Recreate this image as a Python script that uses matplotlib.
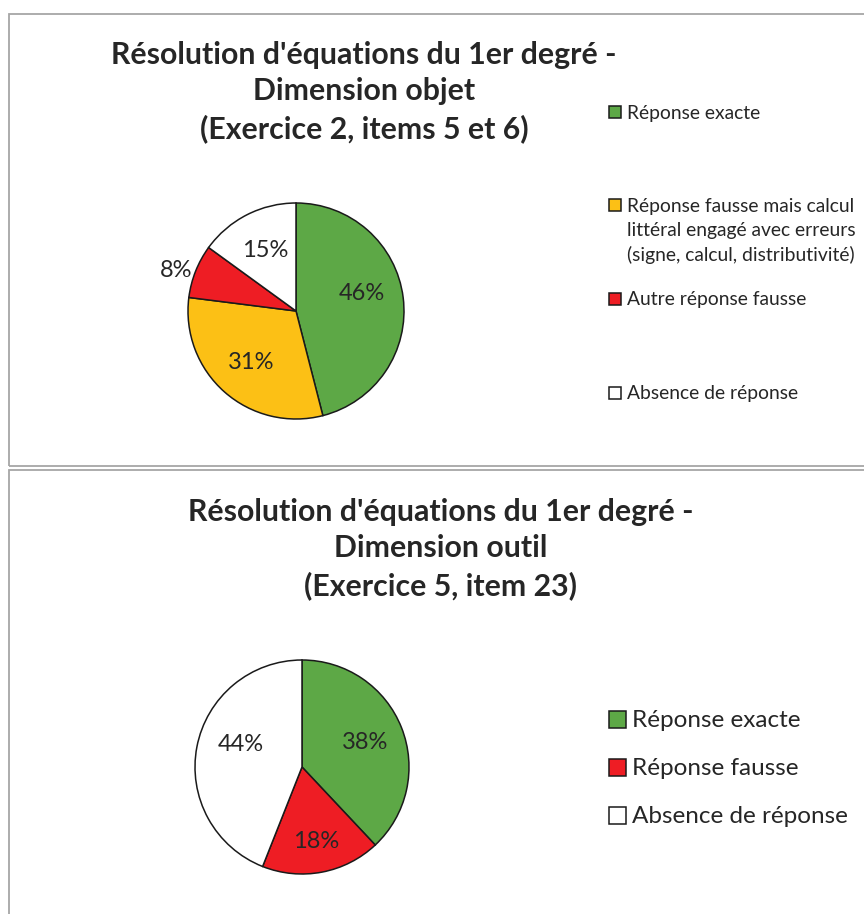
import matplotlib
matplotlib.use('Agg')
import matplotlib.pyplot as plt
from matplotlib.patches import Rectangle
import numpy as np

plt.rcParams['font.family'] = ['Lato', 'DejaVu Sans']

# Data
title_top = "Résolution d'équations du 1er degré -\nDimension objet\n(Exercice 2, items 5 et 6)"
labels_top = ["Réponse exacte",
              "Réponse fausse mais calcul\nlittéral engagé avec erreurs\n(signe, calcul, distributivité)",
              "Autre réponse fausse",
              "Absence de réponse"]
values_top = [46, 31, 8, 15]

title_bot = "Résolution d'équations du 1er degré -\nDimension outil\n(Exercice 5, item 23)"
labels_bot = ["Réponse exacte", "Réponse fausse", "Absence de réponse"]
values_bot = [38, 18, 44]

GREEN, YELLOW, RED, WHITE = '#5da846', '#fcc015', '#ee1d24', '#ffffff'
colors_top = [GREEN, YELLOW, RED, WHITE]
colors_bot = [GREEN, RED, WHITE]
TXT = '#262626'

W, H = 864, 914
fig = plt.figure(figsize=(W / 100, H / 100), dpi=100)


def fx(x): return x / W


def fy(y): return 1 - y / H


# panel borders
for top, bot in [(13.5, 466), (470, 930)]:
    fig.add_artist(Rectangle((fx(8.5), fy(bot)), fx(900 - 8.5), fy(top) - fy(bot),
                             transform=fig.transFigure, fill=False,
                             edgecolor='#a6a6a6', linewidth=1.3))


def draw_pie(cx, cy, r, values, colors, fs):
    ax = fig.add_axes([fx(cx - r), fy(cy + r), 2 * r / W, 2 * r / H])
    wedges, _, autotexts = ax.pie(values, colors=colors, startangle=90, counterclock=False,
                                  radius=1, autopct='%1.0f%%', pctdistance=0.63,
                                  wedgeprops=dict(edgecolor='#1a1a1a', linewidth=1.1),
                                  textprops=dict(fontsize=fs, color=TXT))
    ax.set_xlim(-1, 1)
    ax.set_ylim(-1, 1)
    ax.axis('off')
    return wedges, autotexts


def move_label(wedge, text, dist, dang=0):
    ang = np.deg2rad((wedge.theta1 + wedge.theta2) / 2 + dang)
    text.set_position((dist * np.cos(ang), dist * np.sin(ang)))


# top chart
w1, t1 = draw_pie(296, 311, 108, values_top, colors_top, 17)
move_label(w1[0], t1[0], 0.63, 8)
move_label(w1[2], t1[2], 1.17, 3)   # small slice label sits outside the pie
fig.text(fx(364), fy(92), title_top, ha='center', va='center', fontsize=21.8,
         fontweight='bold', color=TXT, linespacing=1.35)

# bottom chart
w2, t2 = draw_pie(302, 767, 107, values_bot, colors_bot, 17)
move_label(w2[1], t2[1], 0.71)
move_label(w2[2], t2[2], 0.61, -9)
fig.text(fx(441), fy(549), title_bot, ha='center', va='center', fontsize=21.8,
         fontweight='bold', color=TXT, linespacing=1.35)


def legend_entries(x_box, ys, size, labels, colors, fs, gap, spacing, base, pitch):
    for y, lab, c in zip(ys, labels, colors):
        fig.add_artist(Rectangle((fx(x_box), fy(y + size / 2)), size / W, size / H,
                                 transform=fig.transFigure, facecolor=c,
                                 edgecolor='#1a1a1a', linewidth=1.1))
        # multi-line text: baseline anchor is the last line
        yb = y + base + lab.count('\n') * pitch
        fig.text(fx(x_box + size + gap), fy(yb), lab, ha='left', va='baseline',
                 fontsize=fs, color=TXT, linespacing=spacing)


legend_entries(609, [112, 205, 299, 393], 12, labels_top, colors_top, 13.9, 6, 1.46, 6.5, 24.5)
legend_entries(609, [719, 767, 815], 17, labels_bot, colors_bot, 17.5, 6, 1.2, 8, 0)

fig.savefig('out.png', dpi=100, facecolor='white')
